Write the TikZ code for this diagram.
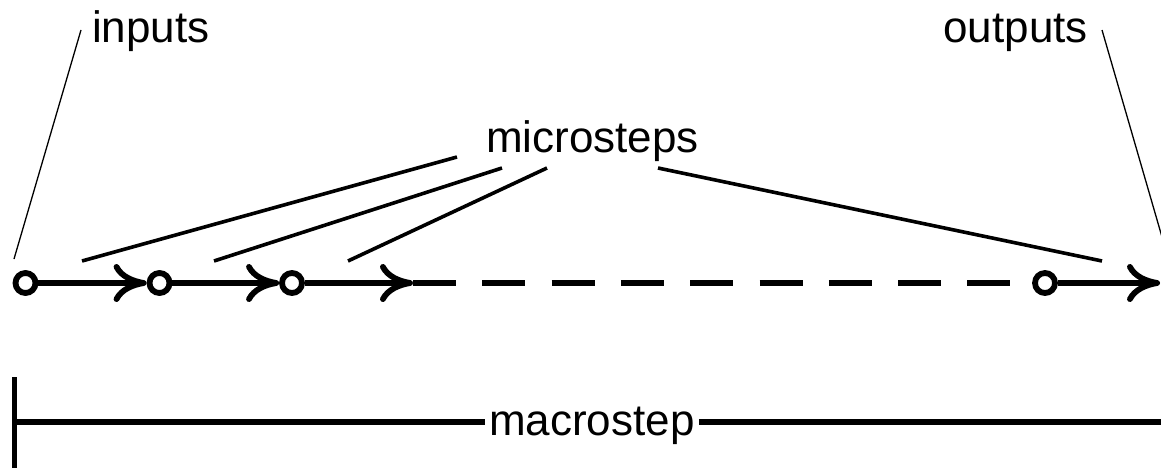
\documentclass[tikz,border=0pt]{standalone}
\usepackage{fontspec}
\setmainfont{Liberation Sans}
\usetikzlibrary{arrows.meta}
\begin{document}
\begin{tikzpicture}[x=1pt,y=-1pt,
  lbl/.style={font=\fontsize{44}{50}\selectfont, inner sep=0pt},
  ring/.style={circle, draw, line width=5.8pt, minimum size=20pt, inner sep=0pt},
  flow/.style={line width=5.8pt},
  tipped/.style={flow, -{Computer Modern Rightarrow[length=33pt,width=38pt]}},
  dashedflow/.style={flow, dash pattern=on 43pt off 26.3pt},
  ptr/.style={line width=3.6pt},
  thinptr/.style={line width=1.3pt},
  barline/.style={line width=5.5pt}]
\useasboundingbox (0,0) rectangle (1161,468);
% labels
\node[lbl, anchor=base west] (in) at (92,43) {inputs};
\node[lbl, anchor=base east] (out) at (1088,43) {outputs};
\node[lbl, anchor=base west] (ms) at (486,152) {microsteps};
\node[lbl, anchor=base west, inner xsep=4pt] (mac) at (485,435) {macrostep};
% states
\node[ring] (c1) at (25.5,283) {};
\node[ring] (c2) at (159.5,283) {};
\node[ring] (c3) at (292,283) {};
\node[ring] (c4) at (1045,283) {};
\coordinate (a3) at (413,283);
\coordinate (fin) at (1160,283);
% flow
\draw[tipped] (c1) -- (c2);
\draw[tipped] (c2) -- (c3);
\draw[tipped] (c3) -- (a3);
\draw[dashedflow] (a3) -- (c4);
\draw[tipped] (c4) -- (fin);
% pointers
\coordinate (inA) at (81,30);
\coordinate (inB) at (14,259);
\coordinate (outA) at (1102,30);
\coordinate (outB) at (1162,237);
\draw[thinptr] (inA) -- (inB);
\draw[thinptr] (outA) -- (outB);
\coordinate (m1a) at (457,157);
\coordinate (m1b) at (82,261);
\coordinate (m2a) at (502,168);
\coordinate (m2b) at (214,261);
\coordinate (m3a) at (547,168);
\coordinate (m3b) at (348,261);
\coordinate (m4a) at (658,168);
\coordinate (m4b) at (1102,261);
\draw[ptr] (m1a) -- (m1b);
\draw[ptr] (m2a) -- (m2b);
\draw[ptr] (m3a) -- (m3b);
\draw[ptr] (m4a) -- (m4b);
% macrostep bar
\coordinate (bartop) at (14.5,377);
\coordinate (barbot) at (14.5,470);
\coordinate (barmid) at (14.5,422);
\coordinate (barend) at (1165,422);
\draw[barline] (bartop) -- (barbot);
\draw[barline] (barmid) -- (barmid -| mac.west);
\draw[barline] (barmid -| mac.east) -- (barend);
\end{tikzpicture}
\end{document}
